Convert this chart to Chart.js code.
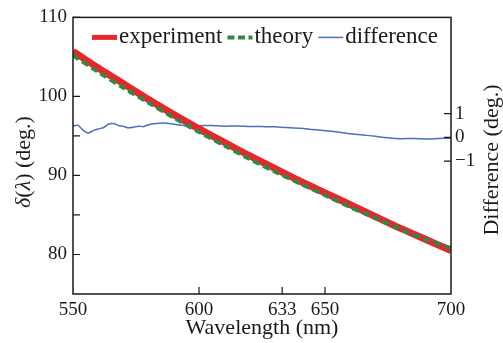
<!DOCTYPE html>
<html>
<head>
<meta charset="utf-8">
<script src="https://cdn.jsdelivr.net/npm/chart.js@4.4.0/dist/chart.umd.min.js"></script>
<style>
  html, body { margin: 0; padding: 0; background: #fff; }
</style>
</head>
<body>
<canvas id="chart" width="503" height="343"></canvas>
<script>
// values
const wavelength = [550, 560, 570, 580, 590, 600, 610, 620, 630, 640, 650, 660, 670, 680, 690, 700];
const experiment = [105.7, 103.6, 101.6, 99.6, 97.7, 95.9, 94.2, 92.5, 90.9, 89.3, 87.8, 86.3, 84.8, 83.3, 81.9, 80.5];
const theory = [105.2, 103.1, 101.1, 99.2, 97.3, 95.5, 93.8, 92.1, 90.5, 89.0, 87.5, 86.0, 84.6, 83.2, 81.9, 80.8];

const diffWavelength = [550, 552, 554, 556, 558, 560, 562, 564, 566, 568, 570, 572, 574, 576, 578, 580, 583, 586, 589, 592, 595, 598,
  600, 605, 610, 615, 620, 625, 630, 635, 640, 645, 650, 655, 660, 665, 670, 675, 680, 685, 690, 695, 700];
const difference = [0.48, 0.50, 0.30, 0.18, 0.28, 0.35, 0.40, 0.55, 0.58, 0.50, 0.46, 0.40, 0.42, 0.47, 0.45, 0.53, 0.58, 0.60, 0.57, 0.52, 0.48, 0.50,
  0.49, 0.50, 0.47, 0.48, 0.46, 0.45, 0.44, 0.41, 0.38, 0.33, 0.28, 0.22, 0.15, 0.10, 0.04, -0.02, -0.06, -0.05, -0.07, -0.05, -0.04];

const xTicks = [550, 600, 633, 650, 700];
const yMajorTicks = [80, 90, 100, 110];
const yMinorTicks = [85, 95];
const diffTicks = [-1, 0, 1];

const black = '#1a1a1a';
const serif = '"Liberation Serif", serif';
Chart.defaults.font.family = serif;
Chart.defaults.color = black;

// frame, inward tick marks, legend row and the two vertical axis titles
const framePlugin = {
  id: 'frame',
  afterDatasetsDraw(chart) {
    const { ctx, chartArea: a, scales } = chart;
    ctx.save();
    ctx.strokeStyle = black;
    ctx.lineWidth = 1.5;
    ctx.strokeRect(a.left, a.top, a.right - a.left, a.bottom - a.top);

    ctx.lineWidth = 1.2;
    ctx.beginPath();
    xTicks.slice(1, -1).forEach(v => {
      const px = scales.x.getPixelForValue(v);
      ctx.moveTo(px, a.bottom); ctx.lineTo(px, a.bottom - 7);
    });
    yMajorTicks.concat(yMinorTicks).forEach(v => {
      const py = scales.y.getPixelForValue(v);
      ctx.moveTo(a.left, py); ctx.lineTo(a.left + 7, py);
    });
    diffTicks.forEach(v => {
      const py = scales.y2.getPixelForValue(v);
      ctx.moveTo(a.right, py); ctx.lineTo(a.right - 7, py);
    });
    ctx.stroke();
    ctx.restore();

    // legend inside the plot, one row, styles taken from the datasets
    ctx.save();
    ctx.font = '23px ' + serif;
    ctx.textBaseline = 'middle';
    let lx = a.left + 19;
    const ly = a.top + 20;
    const legendWidth = [5, 4, 1.5];
    chart.data.datasets.forEach((ds, i) => {
      ctx.strokeStyle = ds.borderColor;
      ctx.lineWidth = legendWidth[i];
      ctx.setLineDash(ds.borderDash ? [7, 3.5] : []);
      ctx.beginPath();
      ctx.moveTo(lx, ly); ctx.lineTo(lx + 25, ly);
      ctx.stroke();
      lx += 27;
      ctx.fillStyle = black;
      ctx.fillText(ds.label, lx, ly);
      lx += ctx.measureText(ds.label).width + 5;
    });
    ctx.restore();

    // left title: δ(λ) (deg.) with italic symbols
    ctx.save();
    const parts = [['δ', true], ['(', false], ['λ', true], [') (deg.)', false]];
    const size = 22;
    const fontOf = it => (it ? 'italic ' : '') + size + 'px ' + serif;
    let total = 0;
    parts.forEach(p => { ctx.font = fontOf(p[1]); total += ctx.measureText(p[0]).width; });
    ctx.translate(24, 162);
    ctx.rotate(-Math.PI / 2);
    ctx.fillStyle = black;
    ctx.textBaseline = 'middle';
    let x = -total / 2;
    parts.forEach(p => {
      ctx.font = fontOf(p[1]);
      ctx.fillText(p[0], x, 0);
      x += ctx.measureText(p[0]).width;
    });
    ctx.restore();

    ctx.save();
    ctx.translate(492, 160);
    ctx.rotate(-Math.PI / 2);
    ctx.font = size + 'px ' + serif;
    ctx.fillStyle = black;
    ctx.textAlign = 'center';
    ctx.textBaseline = 'middle';
    ctx.fillText('Difference (deg.)', 0, 0);
    ctx.restore();
  }
};

new Chart(document.getElementById('chart'), {
  type: 'line',
  data: {
    datasets: [
      {
        label: 'experiment',
        data: wavelength.map((w, i) => ({ x: w, y: experiment[i] })),
        yAxisID: 'y',
        borderColor: '#e8262b',
        borderWidth: 7,
        pointRadius: 0,
        tension: 0.3,
        order: 1
      },
      {
        label: 'theory',
        data: wavelength.map((w, i) => ({ x: w, y: theory[i] })),
        yAxisID: 'y',
        borderColor: '#2c8a45',
        borderWidth: 4,
        borderDash: [7, 4],
        pointRadius: 0,
        tension: 0.3,
        order: 0
      },
      {
        label: 'difference',
        data: diffWavelength.map((w, i) => ({ x: w, y: difference[i] })),
        yAxisID: 'y2',
        borderColor: '#4a72b8',
        borderWidth: 1.5,
        pointRadius: 0,
        tension: 0.2,
        order: 2
      }
    ]
  },
  options: {
    responsive: false,
    animation: false,
    devicePixelRatio: 1,
    layout: { padding: { top: 14, left: 0, right: 0, bottom: 0 } },
    plugins: {
      tooltip: { enabled: false },
      legend: { display: false }
    },
    scales: {
      x: {
        type: 'linear',
        min: 550,
        max: 700,
        afterBuildTicks: s => { s.ticks = xTicks.map(v => ({ value: v })); },
        afterFit: s => { s.height = 49; },
        grid: { display: false, drawTicks: false },
        border: { display: false },
        ticks: { padding: 5, font: { size: 19 }, autoSkip: false, maxRotation: 0 },
        title: { display: true, text: 'Wavelength (nm)', font: { size: 22 }, padding: { top: 0, bottom: 2 } }
      },
      y: {
        position: 'left',
        min: 75,
        max: 110,
        afterBuildTicks: s => { s.ticks = yMajorTicks.map(v => ({ value: v })); },
        afterFit: s => { s.width = 73; },
        grid: { display: false, drawTicks: false },
        border: { display: false },
        ticks: { padding: 6, font: { size: 19 } }
      },
      y2: {
        position: 'right',
        min: -6.6,
        max: 5.05,
        afterBuildTicks: s => { s.ticks = diffTicks.map(v => ({ value: v })); },
        afterFit: s => { s.width = 52; },
        grid: { display: false, drawTicks: false },
        border: { display: false },
        ticks: {
          padding: 4,
          font: { size: 19 },
          callback: v => (v < 0 ? '\u2212' + Math.abs(v) : String(v))
        }
      }
    }
  },
  plugins: [framePlugin]
});
</script>
</body>
</html>
